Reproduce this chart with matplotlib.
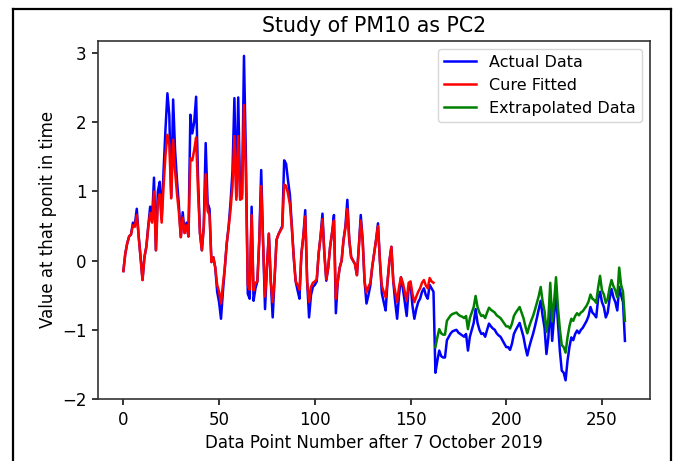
import numpy as np
import matplotlib
matplotlib.use('Agg')
import matplotlib.pyplot as plt
from matplotlib.lines import Line2D

# values, one per data point
actual = [
    -0.15, 0.10, 0.25, 0.35, 0.38, 0.55, 0.52, 0.75, 0.35, 0.05,
    -0.28, 0.05, 0.20, 0.50, 0.78, 0.60, 1.20, 0.15, 1.00, 1.14,
    0.60, 1.30, 1.90, 2.42, 2.10, 0.92, 2.33, 1.60, 1.16, 0.80,
    0.34, 0.70, 0.40, 0.55, 0.35, 2.11, 1.84, 2.00, 2.37, 1.20,
    0.40, 0.15, 0.50, 1.70, 0.83, 0.75, -0.02, 0.05, -0.10, -0.45,
    -0.60, -0.84, -0.45, -0.10, 0.25, 0.50, 0.85, 1.30, 2.35, 0.92,
    2.36, 0.92, 0.95, 2.96, 1.50, -0.48, -0.55, 0.78, -0.58, -0.40,
    -0.30, 0.30, 1.31, 0.25, -0.70, -0.10, 0.39, -0.30, -0.82, -0.25,
    0.30, 0.38, 0.44, 0.50, 1.45, 1.40, 1.16, 0.95, 0.50, 0.05,
    -0.30, -0.43, -0.55, 0.10, 0.35, 0.73, -0.30, -0.82, -0.50, -0.38,
    -0.35, -0.30, 0.10, 0.35, 0.68, 0.10, -0.29, -0.10, 0.20, 0.40,
    0.66, -0.76, -0.30, -0.10, 0.00, 0.30, 0.50, 0.88, 0.30, 0.05,
    0.00, -0.05, -0.21, 0.20, 0.66, 0.30, -0.30, -0.62, -0.50, -0.36,
    -0.09, 0.10, 0.30, 0.54, 0.00, -0.47, -0.60, -0.72, -0.30, 0.00,
    0.20, -0.30, -0.60, -0.84, -0.50, -0.24, -0.40, -0.60, -0.80, -0.40,
    -0.33, -0.65, -0.84, -0.70, -0.60, -0.55, -0.45, -0.40, -0.50, -0.55,
    -0.35, -0.40, -0.45, -1.62, -1.45, -1.30, -1.38, -1.40, -1.40, -1.15,
    -1.10, -1.05, -1.02, -1.01, -1.00, -1.04, -1.06, -1.08, -1.10, -1.06,
    -1.30, -1.10, -1.00, -0.90, -0.70, -0.90, -1.00, -1.06, -1.05, -1.10,
    -1.00, -0.91, -0.95, -0.98, -1.00, -1.05, -1.08, -1.10, -1.15, -1.20,
    -1.25, -1.25, -1.29, -1.20, -1.06, -1.00, -0.95, -0.90, -1.00, -1.10,
    -1.25, -1.37, -1.25, -1.15, -1.06, -0.95, -0.83, -0.70, -0.58, -0.80,
    -0.97, -1.35, -1.11, -0.62, -1.16, -0.80, -0.48, -0.90, -1.30, -1.59,
    -1.62, -1.73, -1.45, -1.25, -1.11, -1.15, -1.06, -1.01, -1.05, -1.00,
    -0.97, -0.92, -0.87, -0.80, -0.67, -0.75, -0.78, -0.82, -0.55, -0.45,
    -0.60, -0.67, -0.82, -0.75, -0.55, -0.41, -0.53, -0.60, -0.72, -0.38,
    -0.50, -0.60, -1.16,
]

fitted = [
    -0.15, 0.10, 0.25, 0.35, 0.38, 0.51, 0.49, 0.66, 0.35, 0.05,
    -0.28, 0.05, 0.20, 0.48, 0.69, 0.55, 1.00, 0.15, 0.85, 0.96,
    0.55, 1.08, 1.53, 1.82, 1.68, 0.90, 1.75, 1.30, 0.97, 0.70,
    0.34, 0.62, 0.40, 0.51, 0.35, 1.48, 1.45, 1.60, 1.78, 1.00,
    0.40, 0.15, 0.48, 1.25, 0.72, 0.66, -0.02, 0.05, -0.10, -0.35,
    -0.45, -0.62, -0.35, -0.10, 0.25, 0.48, 0.74, 1.08, 1.80, 0.88,
    1.80, 0.88, 0.90, 2.25, 1.22, -0.36, -0.42, 0.66, -0.43, -0.32,
    -0.30, 0.30, 1.08, 0.25, -0.52, -0.10, 0.39, -0.30, -0.60, -0.25,
    0.30, 0.38, 0.43, 0.48, 1.10, 1.08, 0.97, 0.81, 0.47, 0.05,
    -0.30, -0.35, -0.42, 0.10, 0.35, 0.64, -0.30, -0.60, -0.38, -0.32,
    -0.30, -0.27, 0.10, 0.35, 0.60, 0.10, -0.27, -0.10, 0.20, 0.40,
    0.58, -0.55, -0.30, -0.10, 0.00, 0.30, 0.47, 0.75, 0.30, 0.05,
    0.00, -0.05, -0.21, 0.20, 0.58, 0.30, -0.30, -0.46, -0.38, -0.32,
    -0.09, 0.10, 0.30, 0.50, 0.00, -0.36, -0.45, -0.53, -0.30, 0.00,
    0.20, -0.30, -0.45, -0.60, -0.38, -0.24, -0.32, -0.45, -0.58, -0.32,
    -0.30, -0.48, -0.60, -0.52, -0.45, -0.40, -0.32, -0.28, -0.36, -0.40,
    -0.25, -0.30, -0.32,
]

extrapolated = [
    -1.25, -1.11, -0.99, -1.05, -1.07, -1.07, -0.87,
    -0.83, -0.79, -0.77, -0.76, -0.75, -0.78, -0.80, -0.81, -0.83, -0.80,
    -0.99, -0.83, -0.75, -0.67, -0.51, -0.67, -0.75, -0.80, -0.79, -0.83,
    -0.75, -0.68, -0.71, -0.73, -0.75, -0.79, -0.81, -0.83, -0.87, -0.91,
    -0.95, -0.95, -0.98, -0.91, -0.80, -0.75, -0.71, -0.67, -0.75, -0.83,
    -0.95, -1.05, -0.95, -0.87, -0.80, -0.71, -0.61, -0.51, -0.38, -0.59,
    -0.73, -1.03, -0.84, -0.32, -0.88, -0.59, -0.24, -0.67, -0.99, -1.22,
    -1.25, -1.33, -1.11, -0.95, -0.84, -0.87, -0.80, -0.76, -0.79, -0.75,
    -0.73, -0.69, -0.65, -0.59, -0.49, -0.55, -0.57, -0.61, -0.39, -0.22,
    -0.43, -0.49, -0.61, -0.55, -0.39, -0.28, -0.37, -0.43, -0.53, -0.10,
    -0.35, -0.45, -0.87,
]

x_actual = np.arange(len(actual))
x_fitted = np.arange(len(fitted))
x_extra = np.arange(len(actual) - len(extrapolated), len(actual))

fig = plt.figure(figsize=(6.84, 4.61), dpi=100)
ax = fig.add_axes([0.1437, 0.1345, 0.8066, 0.7772])

ax.plot(x_actual, actual, color='blue', lw=1.8, label='Actual Data')
ax.plot(x_fitted, fitted, color='red', lw=1.8, label='Cure Fitted')
ax.plot(x_extra, extrapolated, color='green', lw=1.8, label='Extrapolated Data')

ax.set_ylim(-2.0, 3.18)
ax.set_title('Study of PM10 as PC2', fontsize=14.8, pad=6)
ax.set_xlabel('Data Point Number after 7 October 2019', fontsize=12)
ax.set_ylabel('Value at that ponit in time', fontsize=12)
ax.tick_params(labelsize=12, length=4.2, width=1.1, pad=4.2)
for s in ax.spines.values():
    s.set_linewidth(1.2)
    s.set_color('#333333')
ax.legend(loc='upper right', fontsize=11.5)

# black frame of the screenshot
for xs, ys in [([0.019, 0.019], [0.0, 0.98]), ([0.019, 0.981], [0.98, 0.98]),
               ([0.981, 0.981], [0.0, 0.98])]:
    fig.add_artist(Line2D(xs, ys, color='black', lw=1.6, transform=fig.transFigure))

fig.savefig('out.png', dpi=100)
